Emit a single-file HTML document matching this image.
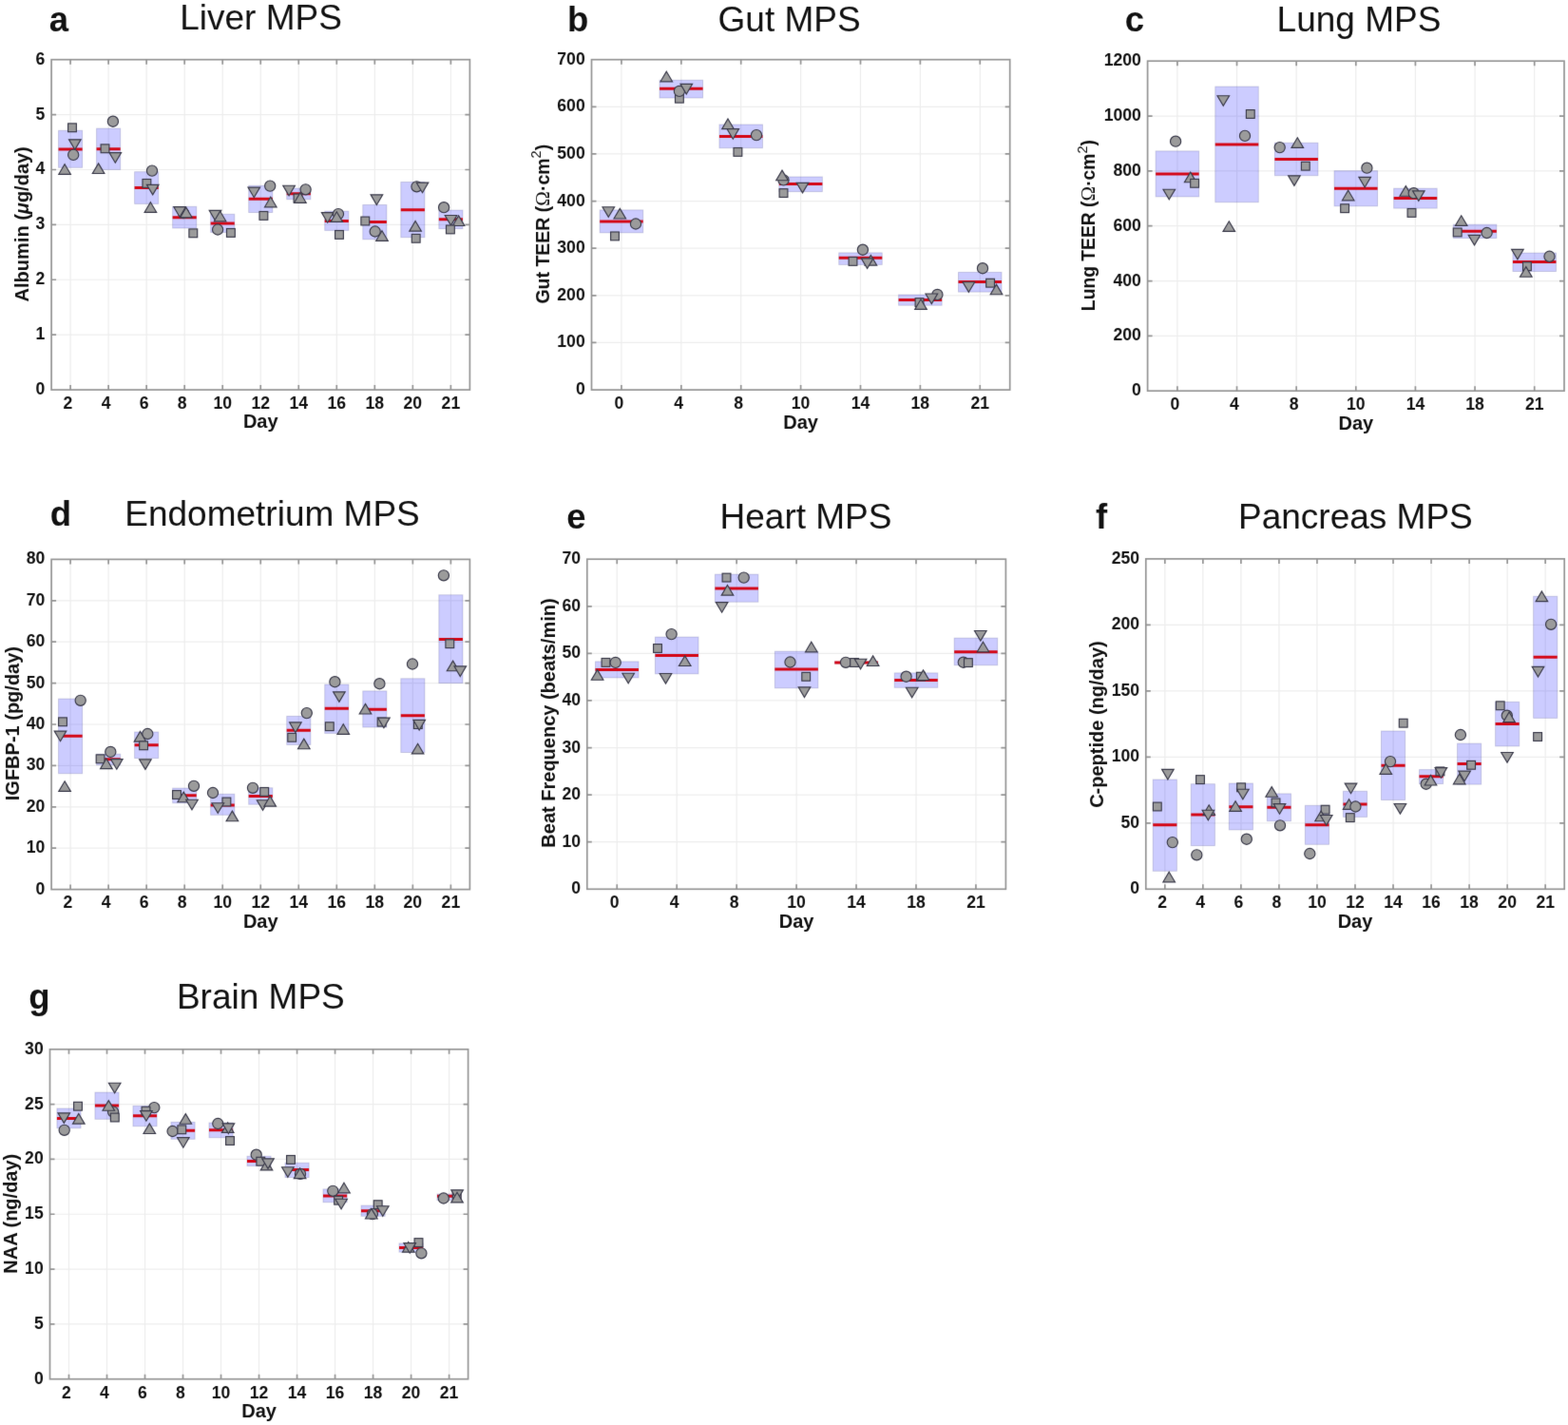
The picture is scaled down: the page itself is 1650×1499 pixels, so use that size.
<!DOCTYPE html>
<html><head><meta charset="utf-8"><title>MPS figure</title>
<style>
html,body{margin:0;padding:0;background:#fff;}
body{width:1650px;height:1499px;overflow:hidden;}
svg{display:block;}
text{font-family:'Liberation Sans', Arial, Helvetica, sans-serif;fill:#111;}
</style></head><body>
<svg width="1650" height="1499" viewBox="0 0 1650 1499">
<defs><filter id="soft" filterUnits="userSpaceOnUse" x="0" y="0" width="1650" height="1499" color-interpolation-filters="sRGB"><feConvolveMatrix order="3" kernelMatrix="0.0052 0.0619 0.0052 0.0619 0.7316 0.0619 0.0052 0.0619 0.0052" divisor="1" edgeMode="duplicate"/></filter></defs>
<rect width="1650" height="1499" fill="#fff"/>
<g filter="url(#soft)">
<path d="M74.11 62.7V410.05M114.14 62.7V410.05M154.17 62.7V410.05M194.2 62.7V410.05M234.22 62.7V410.05M274.25 62.7V410.05M314.28 62.7V410.05M354.3 62.7V410.05M394.33 62.7V410.05M434.36 62.7V410.05M474.39 62.7V410.05M54.1 352.16H494.4M54.1 294.27H494.4M54.1 236.37H494.4M54.1 178.48H494.4M54.1 120.59H494.4" stroke="#ededed" stroke-width="1.2" fill="none"/>
<g fill="#0000ff" fill-opacity="0.2" stroke="#404080" stroke-opacity="0.22" stroke-width="1"><rect x="61.56" y="137.3" width="25.1" height="39"/><rect x="101.59" y="135.1" width="25.1" height="43.3"/><rect x="141.62" y="180.7" width="25.1" height="33.7"/><rect x="181.65" y="217.3" width="25.1" height="22.7"/><rect x="221.67" y="225.3" width="25.1" height="19.1"/><rect x="261.7" y="195.3" width="25.1" height="28.2"/><rect x="301.73" y="198.1" width="25.1" height="11.6"/><rect x="341.75" y="222.2" width="25.1" height="20.2"/><rect x="381.78" y="215.5" width="25.1" height="36.3"/><rect x="421.81" y="191.5" width="25.1" height="58.2"/><rect x="461.84" y="221.1" width="25.1" height="19.5"/></g>
<path d="M61.56 156.9H86.66M101.59 156.7H126.69M141.62 197.6H166.72M181.65 228.7H206.75M221.67 234.9H246.77M261.7 209.2H286.8M301.73 203.7H326.83M341.75 232.5H366.85M381.78 233.6H406.88M421.81 220.7H446.91M461.84 230.8H486.94" stroke="#d40818" stroke-width="3.0" fill="none"/>
<g fill="#9b9b9b" stroke="#3a3a4a" stroke-width="1.15" stroke-linejoin="miter"><rect x="71.6" y="129.9" width="8.8" height="8.8"/><polygon points="78.8,157.4 85.1,146.8 72.5,146.8"/><circle cx="77.2" cy="162.9" r="5.6"/><polygon points="68.1,172.7 74.4,183.3 61.8,183.3"/><circle cx="118.9" cy="127.7" r="5.6"/><rect x="106.1" y="151.9" width="8.8" height="8.8"/><polygon points="121.3,171.2 127.6,160.6 115,160.6"/><polygon points="103.6,171.9 109.9,182.5 97.3,182.5"/><circle cx="160" cy="179.6" r="5.6"/><rect x="150" y="188.5" width="8.8" height="8.8"/><polygon points="160.7,204.9 167,194.3 154.4,194.3"/><polygon points="158.4,212.7 164.7,223.3 152.1,223.3"/><circle cx="193" cy="224" r="5.6"/><polygon points="189.1,228.2 195.4,217.6 182.8,217.6"/><polygon points="195.9,218.3 202.2,228.9 189.6,228.9"/><rect x="198.9" y="240.9" width="8.8" height="8.8"/><polygon points="226.5,232 232.8,221.4 220.2,221.4"/><polygon points="231.6,222.2 237.9,232.8 225.3,232.8"/><circle cx="229.1" cy="241.5" r="5.6"/><rect x="238.5" y="240.5" width="8.8" height="8.8"/><circle cx="284.2" cy="195.6" r="5.6"/><polygon points="267.3,207.7 273.6,197.1 261,197.1"/><polygon points="284.8,207.2 291.1,217.8 278.5,217.8"/><rect x="273" y="222.5" width="8.8" height="8.8"/><rect x="309.1" y="204.1" width="8.8" height="8.8"/><polygon points="304.1,205.8 310.4,195.2 297.8,195.2"/><circle cx="321.6" cy="199.3" r="5.6"/><polygon points="315.9,202.7 322.2,213.3 309.6,213.3"/><polygon points="344.7,234.2 351,223.6 338.4,223.6"/><circle cx="356" cy="225.1" r="5.6"/><polygon points="354.3,222.8 360.6,233.4 348,233.4"/><rect x="352.6" y="242.5" width="8.8" height="8.8"/><polygon points="396.4,215.5 402.7,204.9 390.1,204.9"/><rect x="379.9" y="228.1" width="8.8" height="8.8"/><circle cx="394.7" cy="243.5" r="5.6"/><polygon points="402,242.7 408.3,253.3 395.7,253.3"/><circle cx="438.5" cy="196.3" r="5.6"/><polygon points="444.5,202.7 450.8,192.1 438.2,192.1"/><polygon points="437.1,232.5 443.4,243.1 430.8,243.1"/><rect x="433.3" y="246.4" width="8.8" height="8.8"/><circle cx="467.1" cy="218.2" r="5.6"/><polygon points="474.5,237.1 480.8,226.5 468.2,226.5"/><polygon points="482.6,226.9 488.9,237.5 476.3,237.5"/><rect x="469.5" y="237" width="8.8" height="8.8"/></g>
<path d="M74.11 410.05v-5M74.11 62.7v5M114.14 410.05v-5M114.14 62.7v5M154.17 410.05v-5M154.17 62.7v5M194.2 410.05v-5M194.2 62.7v5M234.22 410.05v-5M234.22 62.7v5M274.25 410.05v-5M274.25 62.7v5M314.28 410.05v-5M314.28 62.7v5M354.3 410.05v-5M354.3 62.7v5M394.33 410.05v-5M394.33 62.7v5M434.36 410.05v-5M434.36 62.7v5M474.39 410.05v-5M474.39 62.7v5M54.1 352.16h5M494.4 352.16h-5M54.1 294.27h5M494.4 294.27h-5M54.1 236.37h5M494.4 236.37h-5M54.1 178.48h5M494.4 178.48h-5M54.1 120.59h5M494.4 120.59h-5" stroke="#969696" stroke-width="1.7" fill="none"/>
<rect x="54.1" y="62.7" width="440.3" height="347.35" fill="none" stroke="#969696" stroke-width="1.7"/>
<g font-size="17.6" font-weight="bold" fill="#000"><text x="71.51" y="429.85" text-anchor="middle">2</text><text x="111.54" y="429.85" text-anchor="middle">4</text><text x="151.57" y="429.85" text-anchor="middle">6</text><text x="191.6" y="429.85" text-anchor="middle">8</text><text x="234.22" y="429.85" text-anchor="middle">10</text><text x="274.25" y="429.85" text-anchor="middle">12</text><text x="314.28" y="429.85" text-anchor="middle">14</text><text x="354.3" y="429.85" text-anchor="middle">16</text><text x="394.33" y="429.85" text-anchor="middle">18</text><text x="434.36" y="429.85" text-anchor="middle">20</text><text x="474.39" y="429.85" text-anchor="middle">21</text><text x="47.3" y="415.05" text-anchor="end">0</text><text x="47.3" y="357.16" text-anchor="end">1</text><text x="47.3" y="299.27" text-anchor="end">2</text><text x="47.3" y="241.37" text-anchor="end">3</text><text x="47.3" y="183.48" text-anchor="end">4</text><text x="47.3" y="125.59" text-anchor="end">5</text><text x="47.3" y="67.7" text-anchor="end">6</text></g>
<text x="274.25" y="450.45" text-anchor="middle" font-size="20" font-weight="bold">Day</text>
<text transform="translate(30.4 235.8) rotate(-90)" text-anchor="middle" font-size="20" font-weight="bold">Albumin (<tspan font-style="italic">&#956;</tspan>g/day)</text>
<text x="274.55" y="30.5" text-anchor="middle" font-size="37">Liver MPS</text>
<text x="51.7" y="33" font-size="36.5" font-weight="bold">a</text>
<path d="M653.94 62.7V410.1M716.83 62.7V410.1M779.71 62.7V410.1M842.6 62.7V410.1M905.49 62.7V410.1M968.37 62.7V410.1M1031.26 62.7V410.1M622.5 360.47H1062.7M622.5 310.84H1062.7M622.5 261.21H1062.7M622.5 211.59H1062.7M622.5 161.96H1062.7M622.5 112.33H1062.7" stroke="#ededed" stroke-width="1.2" fill="none"/>
<g fill="#0000ff" fill-opacity="0.2" stroke="#404080" stroke-opacity="0.22" stroke-width="1"><rect x="631.19" y="220.9" width="45.5" height="23.9"/><rect x="694.08" y="84.3" width="45.5" height="18.7"/><rect x="756.96" y="131" width="45.5" height="24.7"/><rect x="819.85" y="186" width="45.5" height="15.6"/><rect x="882.74" y="265.9" width="45.5" height="12.5"/><rect x="945.62" y="310" width="45.5" height="11.2"/><rect x="1008.51" y="286.4" width="45.5" height="20.7"/></g>
<path d="M631.19 233H676.69M694.08 93.3H739.58M756.96 143.4H802.46M819.85 193.4H865.35M882.74 271.3H928.24M945.62 315.5H991.12M1008.51 296.5H1054.01" stroke="#d40818" stroke-width="3.0" fill="none"/>
<g fill="#9b9b9b" stroke="#3a3a4a" stroke-width="1.15" stroke-linejoin="miter"><polygon points="640.3,228.3 646.6,217.7 634,217.7"/><polygon points="652.3,219.4 658.6,230 646,230"/><circle cx="669" cy="235.5" r="5.6"/><rect x="642.6" y="244" width="8.8" height="8.8"/><polygon points="701.3,75.2 707.6,85.8 695,85.8"/><rect x="710.5" y="99.3" width="8.8" height="8.8"/><circle cx="714.9" cy="95.9" r="5.6"/><polygon points="722.3,99 728.6,88.4 716,88.4"/><polygon points="766,125 772.3,135.6 759.7,135.6"/><polygon points="771.3,146.2 777.6,135.6 765,135.6"/><circle cx="796" cy="142.1" r="5.6"/><rect x="772" y="155.5" width="8.8" height="8.8"/><circle cx="824.5" cy="189.4" r="5.6"/><polygon points="823,179.1 829.3,189.7 816.7,189.7"/><polygon points="844.5,202.9 850.8,192.3 838.2,192.3"/><rect x="820.1" y="198.7" width="8.8" height="8.8"/><circle cx="907.9" cy="262.7" r="5.6"/><rect x="893.1" y="270.5" width="8.8" height="8.8"/><polygon points="916.4,268.5 922.7,279.1 910.1,279.1"/><polygon points="912.6,282.4 918.9,271.8 906.3,271.8"/><circle cx="986.4" cy="309.9" r="5.6"/><polygon points="980.3,319.6 986.6,309 974,309"/><rect x="963.1" y="313.7" width="8.8" height="8.8"/><polygon points="969,314.8 975.3,325.4 962.7,325.4"/><circle cx="1034" cy="282.2" r="5.6"/><polygon points="1019.4,307.3 1025.7,296.7 1013.1,296.7"/><rect x="1037.7" y="293.3" width="8.8" height="8.8"/><polygon points="1048.5,299.1 1054.8,309.7 1042.2,309.7"/></g>
<path d="M653.94 410.1v-5M653.94 62.7v5M716.83 410.1v-5M716.83 62.7v5M779.71 410.1v-5M779.71 62.7v5M842.6 410.1v-5M842.6 62.7v5M905.49 410.1v-5M905.49 62.7v5M968.37 410.1v-5M968.37 62.7v5M1031.26 410.1v-5M1031.26 62.7v5M622.5 360.47h5M1062.7 360.47h-5M622.5 310.84h5M1062.7 310.84h-5M622.5 261.21h5M1062.7 261.21h-5M622.5 211.59h5M1062.7 211.59h-5M622.5 161.96h5M1062.7 161.96h-5M622.5 112.33h5M1062.7 112.33h-5" stroke="#969696" stroke-width="1.7" fill="none"/>
<rect x="622.5" y="62.7" width="440.2" height="347.4" fill="none" stroke="#969696" stroke-width="1.7"/>
<g font-size="17.6" font-weight="bold" fill="#000"><text x="651.34" y="429.9" text-anchor="middle">0</text><text x="714.23" y="429.9" text-anchor="middle">4</text><text x="777.11" y="429.9" text-anchor="middle">8</text><text x="842.6" y="429.9" text-anchor="middle">10</text><text x="905.49" y="429.9" text-anchor="middle">14</text><text x="968.37" y="429.9" text-anchor="middle">18</text><text x="1031.26" y="429.9" text-anchor="middle">21</text><text x="615.7" y="415.1" text-anchor="end">0</text><text x="615.7" y="365.47" text-anchor="end">100</text><text x="615.7" y="315.84" text-anchor="end">200</text><text x="615.7" y="266.21" text-anchor="end">300</text><text x="615.7" y="216.59" text-anchor="end">400</text><text x="615.7" y="166.96" text-anchor="end">500</text><text x="615.7" y="117.33" text-anchor="end">600</text><text x="615.7" y="67.7" text-anchor="end">700</text></g>
<text x="842.6" y="450.5" text-anchor="middle" font-size="20" font-weight="bold">Day</text>
<text transform="translate(577.8 235.7) rotate(-90)" text-anchor="middle" font-size="19.5" font-weight="bold">Gut TEER (<tspan font-family="'Liberation Serif', serif" font-weight="normal" font-size="21">&#937;</tspan>&#183;cm<tspan font-size="14.5" font-weight="normal" dy="-8.5">2</tspan><tspan dy="8.5">)</tspan></text>
<text x="830.6" y="32.7" text-anchor="middle" font-size="37">Gut MPS</text>
<text x="597.05" y="33" font-size="36.5" font-weight="bold">b</text>
<path d="M1238.91 64.2V411.2M1301.54 64.2V411.2M1364.17 64.2V411.2M1426.8 64.2V411.2M1489.43 64.2V411.2M1552.06 64.2V411.2M1614.69 64.2V411.2M1207.6 353.37H1646M1207.6 295.53H1646M1207.6 237.7H1646M1207.6 179.87H1646M1207.6 122.03H1646" stroke="#ededed" stroke-width="1.2" fill="none"/>
<g fill="#0000ff" fill-opacity="0.2" stroke="#404080" stroke-opacity="0.22" stroke-width="1"><rect x="1216.16" y="158.9" width="45.5" height="48"/><rect x="1278.79" y="91.1" width="45.5" height="121.6"/><rect x="1341.42" y="150.3" width="45.5" height="34.4"/><rect x="1404.05" y="179.7" width="45.5" height="37.1"/><rect x="1466.68" y="198.2" width="45.5" height="20.9"/><rect x="1529.31" y="236.2" width="45.5" height="14.3"/><rect x="1591.94" y="266.1" width="45.5" height="19.4"/></g>
<path d="M1216.16 182.9H1261.66M1278.79 152H1324.29M1341.42 167.6H1386.92M1404.05 198.3H1449.55M1466.68 208.5H1512.18M1529.31 243.3H1574.81M1591.94 275.6H1637.44" stroke="#d40818" stroke-width="3.0" fill="none"/>
<g fill="#9b9b9b" stroke="#3a3a4a" stroke-width="1.15" stroke-linejoin="miter"><circle cx="1237.1" cy="148.7" r="5.6"/><polygon points="1252.7,181.1 1259,191.7 1246.4,191.7"/><rect x="1252.7" y="188.4" width="8.8" height="8.8"/><polygon points="1230.3,209.8 1236.6,199.2 1224,199.2"/><polygon points="1287.3,111.3 1293.6,100.7 1281,100.7"/><rect x="1311.4" y="115.6" width="8.8" height="8.8"/><circle cx="1310" cy="142.9" r="5.6"/><polygon points="1293.3,232.8 1299.6,243.4 1287,243.4"/><circle cx="1346.7" cy="155.1" r="5.6"/><polygon points="1365.3,144.8 1371.6,155.4 1359,155.4"/><rect x="1369.4" y="170.3" width="8.8" height="8.8"/><polygon points="1361.9,195.4 1368.2,184.8 1355.6,184.8"/><circle cx="1438.4" cy="176.7" r="5.6"/><polygon points="1436.2,197 1442.5,186.4 1429.9,186.4"/><polygon points="1418.7,200.2 1425,210.8 1412.4,210.8"/><rect x="1410.7" y="214.8" width="8.8" height="8.8"/><polygon points="1479.3,195.6 1485.6,206.2 1473,206.2"/><circle cx="1487.7" cy="203.2" r="5.6"/><polygon points="1492.8,211.4 1499.1,200.8 1486.5,200.8"/><rect x="1481.1" y="219.5" width="8.8" height="8.8"/><polygon points="1537.7,226.8 1544,237.4 1531.4,237.4"/><rect x="1529.3" y="240" width="8.8" height="8.8"/><circle cx="1564.6" cy="245" r="5.6"/><polygon points="1551.5,257.9 1557.8,247.3 1545.2,247.3"/><polygon points="1596.9,272.9 1603.2,262.3 1590.6,262.3"/><circle cx="1630.5" cy="269.8" r="5.6"/><rect x="1602.5" y="275.8" width="8.8" height="8.8"/><polygon points="1605.8,280.6 1612.1,291.2 1599.5,291.2"/></g>
<path d="M1238.91 411.2v-5M1238.91 64.2v5M1301.54 411.2v-5M1301.54 64.2v5M1364.17 411.2v-5M1364.17 64.2v5M1426.8 411.2v-5M1426.8 64.2v5M1489.43 411.2v-5M1489.43 64.2v5M1552.06 411.2v-5M1552.06 64.2v5M1614.69 411.2v-5M1614.69 64.2v5M1207.6 353.37h5M1646 353.37h-5M1207.6 295.53h5M1646 295.53h-5M1207.6 237.7h5M1646 237.7h-5M1207.6 179.87h5M1646 179.87h-5M1207.6 122.03h5M1646 122.03h-5" stroke="#969696" stroke-width="1.7" fill="none"/>
<rect x="1207.6" y="64.2" width="438.4" height="347" fill="none" stroke="#969696" stroke-width="1.7"/>
<g font-size="17.6" font-weight="bold" fill="#000"><text x="1236.31" y="431" text-anchor="middle">0</text><text x="1298.94" y="431" text-anchor="middle">4</text><text x="1361.57" y="431" text-anchor="middle">8</text><text x="1426.8" y="431" text-anchor="middle">10</text><text x="1489.43" y="431" text-anchor="middle">14</text><text x="1552.06" y="431" text-anchor="middle">18</text><text x="1614.69" y="431" text-anchor="middle">21</text><text x="1200.8" y="416.2" text-anchor="end">0</text><text x="1200.8" y="358.37" text-anchor="end">200</text><text x="1200.8" y="300.53" text-anchor="end">400</text><text x="1200.8" y="242.7" text-anchor="end">600</text><text x="1200.8" y="184.87" text-anchor="end">800</text><text x="1200.8" y="127.03" text-anchor="end">1000</text><text x="1200.8" y="69.2" text-anchor="end">1200</text></g>
<text x="1426.8" y="451.6" text-anchor="middle" font-size="20" font-weight="bold">Day</text>
<text transform="translate(1152.4 237.1) rotate(-90)" text-anchor="middle" font-size="19.3" font-weight="bold">Lung TEER (<tspan font-family="'Liberation Serif', serif" font-weight="normal" font-size="21">&#937;</tspan>&#183;cm<tspan font-size="14.5" font-weight="normal" dy="-8.5">2</tspan><tspan dy="8.5">)</tspan></text>
<text x="1430" y="32.7" text-anchor="middle" font-size="37">Lung MPS</text>
<text x="1183.75" y="33" font-size="36.5" font-weight="bold">c</text>
<path d="M74.11 588.4V935.6M114.14 588.4V935.6M154.17 588.4V935.6M194.2 588.4V935.6M234.22 588.4V935.6M274.25 588.4V935.6M314.28 588.4V935.6M354.3 588.4V935.6M394.33 588.4V935.6M434.36 588.4V935.6M474.39 588.4V935.6M54.1 892.2H494.4M54.1 848.8H494.4M54.1 805.4H494.4M54.1 762H494.4M54.1 718.6H494.4M54.1 675.2H494.4M54.1 631.8H494.4" stroke="#ededed" stroke-width="1.2" fill="none"/>
<g fill="#0000ff" fill-opacity="0.2" stroke="#404080" stroke-opacity="0.22" stroke-width="1"><rect x="61.56" y="735.1" width="25.1" height="78.6"/><rect x="101.59" y="793.3" width="25.1" height="11.4"/><rect x="141.62" y="770" width="25.1" height="27.6"/><rect x="181.65" y="829.1" width="25.1" height="15.6"/><rect x="221.67" y="835.3" width="25.1" height="22"/><rect x="261.7" y="828.8" width="25.1" height="17.4"/><rect x="301.73" y="753.4" width="25.1" height="30"/><rect x="341.75" y="720" width="25.1" height="51.4"/><rect x="381.78" y="726.9" width="25.1" height="38.1"/><rect x="421.81" y="713.8" width="25.1" height="77.7"/><rect x="461.84" y="625.8" width="25.1" height="92.8"/></g>
<path d="M61.56 774.3H86.66M101.59 798.7H126.69M141.62 783.7H166.72M181.65 836.7H206.75M221.67 846.9H246.77M261.7 837.5H286.8M301.73 768.3H326.83M341.75 745.3H366.85M381.78 746.3H406.88M421.81 752.8H446.91M461.84 672.6H486.94" stroke="#d40818" stroke-width="3.0" fill="none"/>
<g fill="#9b9b9b" stroke="#3a3a4a" stroke-width="1.15" stroke-linejoin="miter"><circle cx="84.7" cy="736.8" r="5.6"/><rect x="61.6" y="754.9" width="8.8" height="8.8"/><polygon points="63.5,779.7 69.8,769.1 57.2,769.1"/><polygon points="68.1,821.8 74.4,832.4 61.8,832.4"/><circle cx="116.3" cy="790.9" r="5.6"/><rect x="101.2" y="793.9" width="8.8" height="8.8"/><polygon points="111.9,798 118.2,808.6 105.6,808.6"/><polygon points="122.8,809.2 129.1,798.6 116.5,798.6"/><circle cx="155.3" cy="772" r="5.6"/><polygon points="147.5,769.5 153.8,780.1 141.2,780.1"/><rect x="146.7" y="779.9" width="8.8" height="8.8"/><polygon points="152.9,809.4 159.2,798.8 146.6,798.8"/><circle cx="204" cy="826.8" r="5.6"/><rect x="181.6" y="831.6" width="8.8" height="8.8"/><polygon points="193.2,833.1 199.5,843.7 186.9,843.7"/><polygon points="202,851.8 208.3,841.2 195.7,841.2"/><circle cx="224" cy="834" r="5.6"/><rect x="234" y="839.1" width="8.8" height="8.8"/><polygon points="229.3,855.3 235.6,844.7 223,844.7"/><polygon points="244.4,853.1 250.7,863.7 238.1,863.7"/><circle cx="266" cy="828.8" r="5.6"/><rect x="273.8" y="828.5" width="8.8" height="8.8"/><polygon points="276.6,852.3 282.9,841.7 270.3,841.7"/><polygon points="284.2,837.5 290.5,848.1 277.9,848.1"/><circle cx="322.8" cy="750.1" r="5.6"/><polygon points="310.9,770.5 317.2,759.9 304.6,759.9"/><rect x="302.8" y="771.4" width="8.8" height="8.8"/><polygon points="319.8,777.1 326.1,787.7 313.5,787.7"/><circle cx="352.4" cy="717.2" r="5.6"/><polygon points="356.9,738.4 363.2,727.8 350.6,727.8"/><rect x="342.4" y="759.8" width="8.8" height="8.8"/><polygon points="361.3,761.7 367.6,772.3 355,772.3"/><circle cx="399.4" cy="719.2" r="5.6"/><polygon points="384.5,740.4 390.8,751 378.2,751"/><rect x="397.2" y="755.2" width="8.8" height="8.8"/><polygon points="403.9,765.7 410.2,755.1 397.6,755.1"/><circle cx="434" cy="698.5" r="5.6"/><rect x="435.4" y="757.7" width="8.8" height="8.8"/><polygon points="441.2,768 447.5,757.4 434.9,757.4"/><polygon points="439.6,782.3 445.9,792.9 433.3,792.9"/><circle cx="466.9" cy="605.3" r="5.6"/><rect x="468.9" y="672.8" width="8.8" height="8.8"/><polygon points="476.6,695.1 482.9,705.7 470.3,705.7"/><polygon points="484.3,711.5 490.6,700.9 478,700.9"/></g>
<path d="M74.11 935.6v-5M74.11 588.4v5M114.14 935.6v-5M114.14 588.4v5M154.17 935.6v-5M154.17 588.4v5M194.2 935.6v-5M194.2 588.4v5M234.22 935.6v-5M234.22 588.4v5M274.25 935.6v-5M274.25 588.4v5M314.28 935.6v-5M314.28 588.4v5M354.3 935.6v-5M354.3 588.4v5M394.33 935.6v-5M394.33 588.4v5M434.36 935.6v-5M434.36 588.4v5M474.39 935.6v-5M474.39 588.4v5M54.1 892.2h5M494.4 892.2h-5M54.1 848.8h5M494.4 848.8h-5M54.1 805.4h5M494.4 805.4h-5M54.1 762h5M494.4 762h-5M54.1 718.6h5M494.4 718.6h-5M54.1 675.2h5M494.4 675.2h-5M54.1 631.8h5M494.4 631.8h-5" stroke="#969696" stroke-width="1.7" fill="none"/>
<rect x="54.1" y="588.4" width="440.3" height="347.2" fill="none" stroke="#969696" stroke-width="1.7"/>
<g font-size="17.6" font-weight="bold" fill="#000"><text x="71.51" y="955.4" text-anchor="middle">2</text><text x="111.54" y="955.4" text-anchor="middle">4</text><text x="151.57" y="955.4" text-anchor="middle">6</text><text x="191.6" y="955.4" text-anchor="middle">8</text><text x="234.22" y="955.4" text-anchor="middle">10</text><text x="274.25" y="955.4" text-anchor="middle">12</text><text x="314.28" y="955.4" text-anchor="middle">14</text><text x="354.3" y="955.4" text-anchor="middle">16</text><text x="394.33" y="955.4" text-anchor="middle">18</text><text x="434.36" y="955.4" text-anchor="middle">20</text><text x="474.39" y="955.4" text-anchor="middle">21</text><text x="47.3" y="940.6" text-anchor="end">0</text><text x="47.3" y="897.2" text-anchor="end">10</text><text x="47.3" y="853.8" text-anchor="end">20</text><text x="47.3" y="810.4" text-anchor="end">30</text><text x="47.3" y="767" text-anchor="end">40</text><text x="47.3" y="723.6" text-anchor="end">50</text><text x="47.3" y="680.2" text-anchor="end">60</text><text x="47.3" y="636.8" text-anchor="end">70</text><text x="47.3" y="593.4" text-anchor="end">80</text></g>
<text x="274.25" y="976" text-anchor="middle" font-size="20" font-weight="bold">Day</text>
<text transform="translate(19.8 761.1) rotate(-90)" text-anchor="middle" font-size="20" font-weight="bold">IGFBP-1 (pg/day)</text>
<text x="286.5" y="553" text-anchor="middle" font-size="37">Endometrium MPS</text>
<text x="52.8" y="553" font-size="36.5" font-weight="bold">d</text>
<path d="M649.27 588.2V935.3M712.21 588.2V935.3M775.16 588.2V935.3M838.1 588.2V935.3M901.04 588.2V935.3M963.99 588.2V935.3M1026.93 588.2V935.3M617.8 885.71H1058.4M617.8 836.13H1058.4M617.8 786.54H1058.4M617.8 736.96H1058.4M617.8 687.37H1058.4M617.8 637.79H1058.4" stroke="#ededed" stroke-width="1.2" fill="none"/>
<g fill="#0000ff" fill-opacity="0.2" stroke="#404080" stroke-opacity="0.22" stroke-width="1"><rect x="626.52" y="695.9" width="45.5" height="17"/><rect x="689.46" y="670.1" width="45.5" height="38.7"/><rect x="752.41" y="604.2" width="45.5" height="29"/><rect x="815.35" y="685.2" width="45.5" height="38.6"/><rect x="878.29" y="696" width="45.5" height="2"/><rect x="941.24" y="707.9" width="45.5" height="15.4"/><rect x="1004.18" y="671.2" width="45.5" height="28.5"/></g>
<path d="M626.52 704.6H672.02M689.46 689.4H734.96M752.41 618.9H797.91M815.35 704.1H860.85M878.29 697H923.79M941.24 715.6H986.74M1004.18 685.8H1049.68" stroke="#d40818" stroke-width="3.0" fill="none"/>
<g fill="#9b9b9b" stroke="#3a3a4a" stroke-width="1.15" stroke-linejoin="miter"><rect x="633.1" y="692.5" width="8.8" height="8.8"/><circle cx="647.7" cy="696.9" r="5.6"/><polygon points="628.6,704.6 634.9,715.2 622.3,715.2"/><polygon points="661.2,718.8 667.5,708.2 654.9,708.2"/><circle cx="706.6" cy="667.1" r="5.6"/><rect x="687.6" y="677.6" width="8.8" height="8.8"/><polygon points="720.7,689.9 727,700.5 714.4,700.5"/><polygon points="700.5,719.1 706.8,708.5 694.2,708.5"/><rect x="760.1" y="603.2" width="8.8" height="8.8"/><circle cx="782.7" cy="607.6" r="5.6"/><polygon points="765.5,615.5 771.8,626.1 759.2,626.1"/><polygon points="759.6,644.2 765.9,633.6 753.3,633.6"/><circle cx="831.5" cy="696.5" r="5.6"/><polygon points="853.8,675.2 860.1,685.8 847.5,685.8"/><rect x="843.8" y="707.4" width="8.8" height="8.8"/><polygon points="846.5,733.5 852.8,722.9 840.2,722.9"/><circle cx="890" cy="696.8" r="5.6"/><rect x="894.7" y="692.6" width="8.8" height="8.8"/><polygon points="905.6,703.8 911.9,693.2 899.3,693.2"/><polygon points="918.6,689.9 924.9,700.5 912.3,700.5"/><circle cx="953.6" cy="711.7" r="5.6"/><rect x="964.5" y="707.3" width="8.8" height="8.8"/><polygon points="971.5,704.9 977.8,715.5 965.2,715.5"/><polygon points="959.7,733.8 966,723.2 953.4,723.2"/><polygon points="1031.8,674.1 1038.1,663.5 1025.5,663.5"/><polygon points="1034.5,675.2 1040.8,685.8 1028.2,685.8"/><circle cx="1013.8" cy="696.7" r="5.6"/><rect x="1014.5" y="692.7" width="8.8" height="8.8"/></g>
<path d="M649.27 935.3v-5M649.27 588.2v5M712.21 935.3v-5M712.21 588.2v5M775.16 935.3v-5M775.16 588.2v5M838.1 935.3v-5M838.1 588.2v5M901.04 935.3v-5M901.04 588.2v5M963.99 935.3v-5M963.99 588.2v5M1026.93 935.3v-5M1026.93 588.2v5M617.8 885.71h5M1058.4 885.71h-5M617.8 836.13h5M1058.4 836.13h-5M617.8 786.54h5M1058.4 786.54h-5M617.8 736.96h5M1058.4 736.96h-5M617.8 687.37h5M1058.4 687.37h-5M617.8 637.79h5M1058.4 637.79h-5" stroke="#969696" stroke-width="1.7" fill="none"/>
<rect x="617.8" y="588.2" width="440.6" height="347.1" fill="none" stroke="#969696" stroke-width="1.7"/>
<g font-size="17.6" font-weight="bold" fill="#000"><text x="646.67" y="955.1" text-anchor="middle">0</text><text x="709.61" y="955.1" text-anchor="middle">4</text><text x="772.56" y="955.1" text-anchor="middle">8</text><text x="838.1" y="955.1" text-anchor="middle">10</text><text x="901.04" y="955.1" text-anchor="middle">14</text><text x="963.99" y="955.1" text-anchor="middle">18</text><text x="1026.93" y="955.1" text-anchor="middle">21</text><text x="611" y="940.3" text-anchor="end">0</text><text x="611" y="890.71" text-anchor="end">10</text><text x="611" y="841.13" text-anchor="end">20</text><text x="611" y="791.54" text-anchor="end">30</text><text x="611" y="741.96" text-anchor="end">40</text><text x="611" y="692.37" text-anchor="end">50</text><text x="611" y="642.79" text-anchor="end">60</text><text x="611" y="593.2" text-anchor="end">70</text></g>
<text x="838.1" y="975.7" text-anchor="middle" font-size="20" font-weight="bold">Day</text>
<text transform="translate(584 760.5) rotate(-90)" text-anchor="middle" font-size="20" font-weight="bold">Beat Frequency (beats/min)</text>
<text x="848" y="555.7" text-anchor="middle" font-size="37">Heart MPS</text>
<text x="596.2" y="556" font-size="36.5" font-weight="bold">e</text>
<path d="M1225.82 587.9V935.3M1265.85 587.9V935.3M1305.89 587.9V935.3M1345.93 587.9V935.3M1385.96 587.9V935.3M1426 587.9V935.3M1466.04 587.9V935.3M1506.07 587.9V935.3M1546.11 587.9V935.3M1586.15 587.9V935.3M1626.18 587.9V935.3M1205.8 865.82H1646.2M1205.8 796.34H1646.2M1205.8 726.86H1646.2M1205.8 657.38H1646.2" stroke="#ededed" stroke-width="1.2" fill="none"/>
<g fill="#0000ff" fill-opacity="0.2" stroke="#404080" stroke-opacity="0.22" stroke-width="1"><rect x="1213.27" y="820" width="25.1" height="96.3"/><rect x="1253.3" y="824.7" width="25.1" height="64.9"/><rect x="1293.34" y="824" width="25.1" height="48.9"/><rect x="1333.38" y="834.9" width="25.1" height="28.8"/><rect x="1373.41" y="847.3" width="25.1" height="41"/><rect x="1413.45" y="832.3" width="25.1" height="27.1"/><rect x="1453.49" y="769" width="25.1" height="72.5"/><rect x="1493.52" y="809.6" width="25.1" height="14.9"/><rect x="1533.56" y="782.1" width="25.1" height="43"/><rect x="1573.6" y="738.4" width="25.1" height="46.5"/><rect x="1613.63" y="627.3" width="25.1" height="128.1"/></g>
<path d="M1213.27 867.7H1238.37M1253.3 857.1H1278.4M1293.34 848.7H1318.44M1333.38 849.3H1358.48M1373.41 867.7H1398.51M1413.45 846H1438.55M1453.49 805.2H1478.59M1493.52 816.8H1518.62M1533.56 803.4H1558.66M1573.6 761.6H1598.7M1613.63 691.2H1638.73" stroke="#d40818" stroke-width="3.0" fill="none"/>
<g fill="#9b9b9b" stroke="#3a3a4a" stroke-width="1.15" stroke-linejoin="miter"><polygon points="1228.9,820 1235.2,809.4 1222.6,809.4"/><rect x="1213.4" y="844.1" width="8.8" height="8.8"/><circle cx="1233.8" cy="886.1" r="5.6"/><polygon points="1230.2,917.2 1236.5,927.8 1223.9,927.8"/><rect x="1258.6" y="815.7" width="8.8" height="8.8"/><polygon points="1272.2,846.8 1278.5,857.4 1265.9,857.4"/><polygon points="1271.4,862.8 1277.7,852.2 1265.1,852.2"/><circle cx="1259.3" cy="899.3" r="5.6"/><rect x="1301.7" y="823.9" width="8.8" height="8.8"/><polygon points="1307.9,840.8 1314.2,830.2 1301.6,830.2"/><polygon points="1300.1,842.7 1306.4,853.3 1293.8,853.3"/><circle cx="1311.8" cy="882.7" r="5.6"/><polygon points="1338.2,827.6 1344.5,838.2 1331.9,838.2"/><rect x="1338.1" y="840" width="8.8" height="8.8"/><polygon points="1346.5,856.2 1352.8,845.6 1340.2,845.6"/><circle cx="1347" cy="868.3" r="5.6"/><rect x="1390.2" y="847.3" width="8.8" height="8.8"/><polygon points="1390.1,853.1 1396.4,863.7 1383.8,863.7"/><polygon points="1395.7,868.1 1402,857.5 1389.4,857.5"/><circle cx="1378.3" cy="898" r="5.6"/><polygon points="1421.5,834.7 1427.8,824.1 1415.2,824.1"/><polygon points="1419.6,840.7 1425.9,851.3 1413.3,851.3"/><circle cx="1426.4" cy="848.5" r="5.6"/><rect x="1416.4" y="855.7" width="8.8" height="8.8"/><rect x="1472.3" y="756.3" width="8.8" height="8.8"/><circle cx="1463" cy="801.1" r="5.6"/><polygon points="1458.3,803.7 1464.6,814.3 1452,814.3"/><polygon points="1473.4,856.1 1479.7,845.5 1467.1,845.5"/><circle cx="1500.7" cy="824.7" r="5.6"/><polygon points="1505.5,815.4 1511.8,826 1499.2,826"/><rect x="1511" y="807" width="8.8" height="8.8"/><polygon points="1516.4,818.2 1522.7,807.6 1510.1,807.6"/><circle cx="1536.9" cy="773" r="5.6"/><rect x="1543.7" y="800.4" width="8.8" height="8.8"/><polygon points="1541.1,821.7 1547.4,811.1 1534.8,811.1"/><polygon points="1535.7,814.2 1542,824.8 1529.4,824.8"/><rect x="1574.3" y="737.9" width="8.8" height="8.8"/><circle cx="1585.8" cy="752.7" r="5.6"/><polygon points="1588.1,749 1594.4,759.6 1581.8,759.6"/><polygon points="1586,802.1 1592.3,791.5 1579.7,791.5"/><polygon points="1622.4,622 1628.7,632.6 1616.1,632.6"/><circle cx="1632.1" cy="656.8" r="5.6"/><polygon points="1618.5,712 1624.8,701.4 1612.2,701.4"/><rect x="1613.7" y="770.6" width="8.8" height="8.8"/></g>
<path d="M1225.82 935.3v-5M1225.82 587.9v5M1265.85 935.3v-5M1265.85 587.9v5M1305.89 935.3v-5M1305.89 587.9v5M1345.93 935.3v-5M1345.93 587.9v5M1385.96 935.3v-5M1385.96 587.9v5M1426 935.3v-5M1426 587.9v5M1466.04 935.3v-5M1466.04 587.9v5M1506.07 935.3v-5M1506.07 587.9v5M1546.11 935.3v-5M1546.11 587.9v5M1586.15 935.3v-5M1586.15 587.9v5M1626.18 935.3v-5M1626.18 587.9v5M1205.8 865.82h5M1646.2 865.82h-5M1205.8 796.34h5M1646.2 796.34h-5M1205.8 726.86h5M1646.2 726.86h-5M1205.8 657.38h5M1646.2 657.38h-5" stroke="#969696" stroke-width="1.7" fill="none"/>
<rect x="1205.8" y="587.9" width="440.4" height="347.4" fill="none" stroke="#969696" stroke-width="1.7"/>
<g font-size="17.6" font-weight="bold" fill="#000"><text x="1223.22" y="955.1" text-anchor="middle">2</text><text x="1263.25" y="955.1" text-anchor="middle">4</text><text x="1303.29" y="955.1" text-anchor="middle">6</text><text x="1343.33" y="955.1" text-anchor="middle">8</text><text x="1385.96" y="955.1" text-anchor="middle">10</text><text x="1426" y="955.1" text-anchor="middle">12</text><text x="1466.04" y="955.1" text-anchor="middle">14</text><text x="1506.07" y="955.1" text-anchor="middle">16</text><text x="1546.11" y="955.1" text-anchor="middle">18</text><text x="1586.15" y="955.1" text-anchor="middle">20</text><text x="1626.18" y="955.1" text-anchor="middle">21</text><text x="1199" y="940.3" text-anchor="end">0</text><text x="1199" y="870.82" text-anchor="end">50</text><text x="1199" y="801.34" text-anchor="end">100</text><text x="1199" y="731.86" text-anchor="end">150</text><text x="1199" y="662.38" text-anchor="end">200</text><text x="1199" y="592.9" text-anchor="end">250</text></g>
<text x="1426" y="975.7" text-anchor="middle" font-size="20" font-weight="bold">Day</text>
<text transform="translate(1161.3 762.1) rotate(-90)" text-anchor="middle" font-size="20" font-weight="bold">C-peptide (ng/day)</text>
<text x="1426.4" y="555.6" text-anchor="middle" font-size="37">Pancreas MPS</text>
<text x="1153.1" y="555.8" font-size="36.5" font-weight="bold">f</text>
<path d="M72.5 1103.8V1450.7M112.51 1103.8V1450.7M152.52 1103.8V1450.7M192.53 1103.8V1450.7M232.54 1103.8V1450.7M272.55 1103.8V1450.7M312.56 1103.8V1450.7M352.57 1103.8V1450.7M392.58 1103.8V1450.7M432.59 1103.8V1450.7M472.6 1103.8V1450.7M52.5 1392.88H492.6M52.5 1335.07H492.6M52.5 1277.25H492.6M52.5 1219.43H492.6M52.5 1161.62H492.6" stroke="#ededed" stroke-width="1.2" fill="none"/>
<g fill="#0000ff" fill-opacity="0.2" stroke="#404080" stroke-opacity="0.22" stroke-width="1"><rect x="59.95" y="1166" width="25.1" height="20.7"/><rect x="99.96" y="1149.1" width="25.1" height="28.2"/><rect x="139.97" y="1163.3" width="25.1" height="21.4"/><rect x="179.98" y="1180.4" width="25.1" height="17.9"/><rect x="219.99" y="1181.1" width="25.1" height="15.6"/><rect x="260" y="1216.3" width="25.1" height="10.2"/><rect x="300.01" y="1223.3" width="25.1" height="15.2"/><rect x="340.02" y="1250.9" width="25.1" height="13.8"/><rect x="380.03" y="1268.1" width="25.1" height="11.2"/><rect x="420.04" y="1307.9" width="25.1" height="9.2"/><rect x="460.05" y="1256" width="25.1" height="6.5"/></g>
<path d="M59.95 1176.4H85.05M99.96 1163.1H125.06M139.97 1173.7H165.07M179.98 1189.3H205.08M219.99 1188.7H245.09M260 1221.5H285.1M300.01 1230.5H325.11M340.02 1257.9H365.12M380.03 1273.7H405.13M420.04 1312.4H445.14M460.05 1258.2H485.15" stroke="#d40818" stroke-width="3.0" fill="none"/>
<g fill="#9b9b9b" stroke="#3a3a4a" stroke-width="1.15" stroke-linejoin="miter"><rect x="77.6" y="1159.3" width="8.8" height="8.8"/><polygon points="67.3,1181.4 73.6,1170.8 61,1170.8"/><polygon points="82.8,1171.5 89.1,1182.1 76.5,1182.1"/><circle cx="67.7" cy="1188.8" r="5.6"/><polygon points="120.7,1149.8 127,1139.2 114.4,1139.2"/><circle cx="119.1" cy="1169.6" r="5.6"/><polygon points="114.3,1157.6 120.6,1168.2 108,1168.2"/><rect x="116.4" y="1171.1" width="8.8" height="8.8"/><circle cx="162.3" cy="1165.1" r="5.6"/><rect x="149.1" y="1164.3" width="8.8" height="8.8"/><polygon points="153.9,1179.2 160.2,1168.6 147.6,1168.6"/><polygon points="157.3,1181.9 163.6,1192.5 151,1192.5"/><polygon points="195.3,1171.6 201.6,1182.2 189,1182.2"/><circle cx="181.6" cy="1190" r="5.6"/><rect x="186.9" y="1183.9" width="8.8" height="8.8"/><polygon points="192.8,1207.2 199.1,1196.6 186.5,1196.6"/><circle cx="229.3" cy="1182" r="5.6"/><polygon points="239.7,1180.8 246,1191.4 233.4,1191.4"/><polygon points="240.4,1192.5 246.7,1181.9 234.1,1181.9"/><rect x="237.6" y="1195.6" width="8.8" height="8.8"/><circle cx="269.7" cy="1214.7" r="5.6"/><rect x="269.9" y="1217.3" width="8.8" height="8.8"/><polygon points="280.5,1220.3 286.8,1230.9 274.2,1230.9"/><polygon points="282,1229.4 288.3,1218.8 275.7,1218.8"/><rect x="301.6" y="1215.5" width="8.8" height="8.8"/><polygon points="302.9,1238.3 309.2,1227.7 296.6,1227.7"/><circle cx="316" cy="1234.9" r="5.6"/><polygon points="315.6,1229 321.9,1239.6 309.3,1239.6"/><circle cx="350.3" cy="1252.8" r="5.6"/><polygon points="362,1244.2 368.3,1254.8 355.7,1254.8"/><rect x="351.7" y="1258.3" width="8.8" height="8.8"/><polygon points="359.1,1271.8 365.4,1261.2 352.8,1261.2"/><rect x="393.3" y="1262.8" width="8.8" height="8.8"/><polygon points="402.8,1279.3 409.1,1268.7 396.5,1268.7"/><circle cx="391.9" cy="1277.1" r="5.6"/><polygon points="390.8,1271.4 397.1,1282 384.5,1282"/><polygon points="429.8,1306.5 436.1,1317.1 423.5,1317.1"/><rect x="436.1" y="1302.7" width="8.8" height="8.8"/><polygon points="431.2,1318.2 437.5,1307.6 424.9,1307.6"/><circle cx="443.4" cy="1318.3" r="5.6"/><circle cx="466.8" cy="1260.5" r="5.6"/><rect x="476.3" y="1252.3" width="8.8" height="8.8"/><polygon points="481.1,1262.5 487.4,1251.9 474.8,1251.9"/><polygon points="481,1254.3 487.3,1264.9 474.7,1264.9"/></g>
<path d="M72.5 1450.7v-5M72.5 1103.8v5M112.51 1450.7v-5M112.51 1103.8v5M152.52 1450.7v-5M152.52 1103.8v5M192.53 1450.7v-5M192.53 1103.8v5M232.54 1450.7v-5M232.54 1103.8v5M272.55 1450.7v-5M272.55 1103.8v5M312.56 1450.7v-5M312.56 1103.8v5M352.57 1450.7v-5M352.57 1103.8v5M392.58 1450.7v-5M392.58 1103.8v5M432.59 1450.7v-5M432.59 1103.8v5M472.6 1450.7v-5M472.6 1103.8v5M52.5 1392.88h5M492.6 1392.88h-5M52.5 1335.07h5M492.6 1335.07h-5M52.5 1277.25h5M492.6 1277.25h-5M52.5 1219.43h5M492.6 1219.43h-5M52.5 1161.62h5M492.6 1161.62h-5" stroke="#969696" stroke-width="1.7" fill="none"/>
<rect x="52.5" y="1103.8" width="440.1" height="346.9" fill="none" stroke="#969696" stroke-width="1.7"/>
<g font-size="17.6" font-weight="bold" fill="#000"><text x="69.9" y="1470.5" text-anchor="middle">2</text><text x="109.91" y="1470.5" text-anchor="middle">4</text><text x="149.92" y="1470.5" text-anchor="middle">6</text><text x="189.93" y="1470.5" text-anchor="middle">8</text><text x="232.54" y="1470.5" text-anchor="middle">10</text><text x="272.55" y="1470.5" text-anchor="middle">12</text><text x="312.56" y="1470.5" text-anchor="middle">14</text><text x="352.57" y="1470.5" text-anchor="middle">16</text><text x="392.58" y="1470.5" text-anchor="middle">18</text><text x="432.59" y="1470.5" text-anchor="middle">20</text><text x="472.6" y="1470.5" text-anchor="middle">21</text><text x="45.7" y="1455.7" text-anchor="end">0</text><text x="45.7" y="1397.88" text-anchor="end">5</text><text x="45.7" y="1340.07" text-anchor="end">10</text><text x="45.7" y="1282.25" text-anchor="end">15</text><text x="45.7" y="1224.43" text-anchor="end">20</text><text x="45.7" y="1166.62" text-anchor="end">25</text><text x="45.7" y="1108.8" text-anchor="end">30</text></g>
<text x="272.55" y="1491.1" text-anchor="middle" font-size="20" font-weight="bold">Day</text>
<text transform="translate(18 1276.7) rotate(-90)" text-anchor="middle" font-size="20" font-weight="bold">NAA (ng/day)</text>
<text x="274.35" y="1061.3" text-anchor="middle" font-size="37">Brain MPS</text>
<text x="30.25" y="1061.2" font-size="36.5" font-weight="bold">g</text>
</g>
</svg>
</body></html>
